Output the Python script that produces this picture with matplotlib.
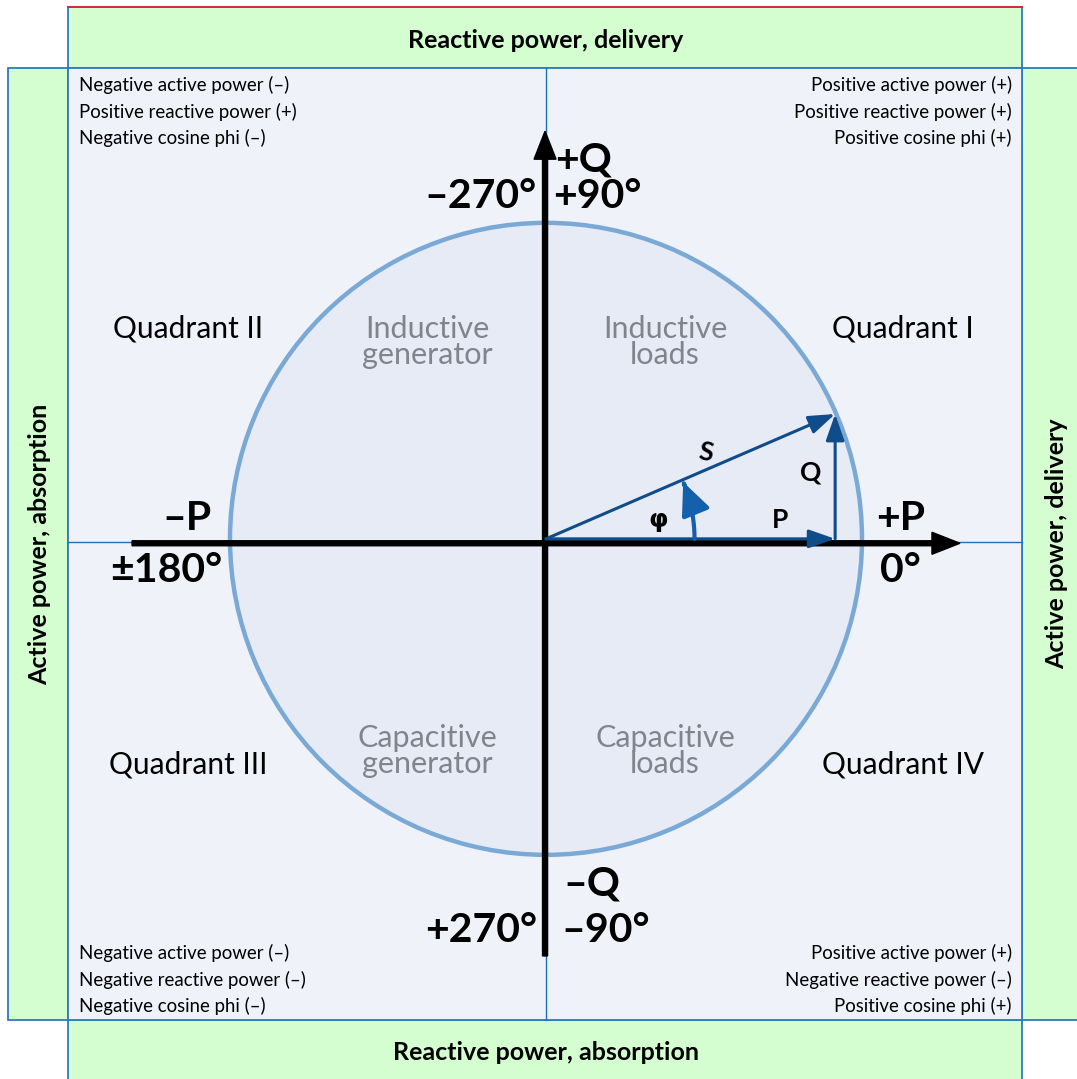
import numpy as np
import matplotlib
matplotlib.use('Agg')
import matplotlib.pyplot as plt
from matplotlib.patches import Rectangle, Circle, FancyArrowPatch
from matplotlib.path import Path

plt.rcParams['font.family'] = ['Lato', 'DejaVu Sans']

# phasor values (unit circle = apparent power S)
S_mag = 1.0
P_val = 0.915
Q_val = 0.405
phi_deg = 24.0
phi_arc_r = 0.47
axis_len = 1.31

# text content
quadrant_names = ['Quadrant I', 'Quadrant II', 'Quadrant III', 'Quadrant IV']
load_names = ['Inductive\nloads', 'Inductive\ngenerator', 'Capacitive\ngenerator', 'Capacitive\nloads']
corner_notes = [
    ['Positive active power (+)', 'Positive reactive power (+)', 'Positive cosine phi (+)'],
    ['Negative active power (\u2013)', 'Positive reactive power (+)', 'Negative cosine phi (\u2013)'],
    ['Negative active power (\u2013)', 'Negative reactive power (\u2013)', 'Negative cosine phi (\u2013)'],
    ['Positive active power (+)', 'Negative reactive power (\u2013)', 'Positive cosine phi (+)'],
]
strip_titles = ['Reactive power, delivery', 'Reactive power, absorption',
                'Active power, absorption', 'Active power, delivery']

# layout (unit circle radius -> 316 px)
scale = 316.0
cx, cy = 546.0, 542.0
def px(x, y):
    return (x - cx) / scale, (cy - y) / scale

fig = plt.figure(figsize=(10.77, 10.79), dpi=100)
ax = fig.add_axes([0, 0, 1, 1])
x0, y0 = px(0, 1079)
x1, y1 = px(1077, 0)
ax.set_xlim(x0, x1)
ax.set_ylim(y0, y1)
ax.axis('off')

green = '#d4fdd0'
panel = '#eff2f9'
edge_blue = '#2b7bbf'

L, T = px(68, 68)
R, B = px(1022, 1020)
_, top_top = px(0, 7)
left_left, _ = px(8, 0)

# green strips
ax.add_patch(Rectangle((L, T), R - L, top_top - T, fc=green, ec=edge_blue, lw=1.3, zorder=1))
ax.plot([L, R], [top_top, top_top], color='#e8202a', lw=1.3, zorder=2)
ax.add_patch(Rectangle((L, y0 - 0.1), R - L, B - y0 + 0.1, fc=green, ec=edge_blue, lw=1.3, zorder=1))
ax.add_patch(Rectangle((left_left, B), L - left_left, T - B, fc=green, ec=edge_blue, lw=1.3, zorder=1))
ax.add_patch(Rectangle((R, B), x1 + 0.1 - R, T - B, fc=green, ec=edge_blue, lw=1.3, zorder=1))
# inner panel
ax.add_patch(Rectangle((L, B), R - L, T - B, fc=panel, ec=edge_blue, lw=1.3, zorder=2))

# thin quadrant dividers
ax.plot([0, 0], [B, T], color='#1f6fbf', lw=1.0, zorder=3)
ax.plot([L, R], [0, 0], color='#1f6fbf', lw=1.0, zorder=3)

# circle
ax.add_patch(Circle((0, 0.01), S_mag, fc='#e6ebf6', ec='#7aa9d6', lw=3.2, zorder=4))

# main axes with arrowheads
hw, hl = 22 / scale, 28 / scale
ax.arrow(-axis_len, -0.004, 2 * axis_len, 0, width=5 / scale, head_width=hw, head_length=hl,
         length_includes_head=True, fc='black', ec='black', zorder=6)
ax.arrow(-0.003, -axis_len, 0, 2 * axis_len - 0.01, width=5 / scale, head_width=hw, head_length=hl,
         length_includes_head=True, fc='black', ec='black', zorder=6)

# phasor triangle
vec_col = '#0f4c8a'
akw = dict(arrowstyle='-|>,head_length=1.0,head_width=0.35', color=vec_col, lw=2.2,
           mutation_scale=16, shrinkA=0, shrinkB=0, zorder=7)
ax.add_patch(FancyArrowPatch((0, 0.01), (P_val, 0.01), **akw))
ax.add_patch(FancyArrowPatch((P_val, 0.01), (P_val, Q_val), **akw))
ax.add_patch(FancyArrowPatch((0, 0.01), (P_val, Q_val), **akw))

# phi arc
ang = np.radians(np.linspace(0, phi_deg - 1.5, 40))
arc = Path(np.column_stack([phi_arc_r * np.cos(ang), phi_arc_r * np.sin(ang) + 0.01]))
ax.add_patch(FancyArrowPatch(path=arc, arrowstyle='-|>,head_length=1.0,head_width=0.45',
                             color='#1560ad', lw=3.0, mutation_scale=20, zorder=7))

# phasor labels
ax.text(*px(706, 452), 'S', fontsize=19, fontweight='bold', rotation=-10, ha='center', va='center', zorder=8)
ax.text(*px(811, 472), 'Q', fontsize=19, fontweight='bold', ha='center', va='center', zorder=8)
ax.text(*px(780, 520), 'P', fontsize=19, fontweight='bold', ha='center', va='center', zorder=8)
ax.text(*px(658, 520), '\u03c6', fontsize=18, fontweight='bold', ha='center', va='center',
        family=['DejaVu Sans'], zorder=8)

# axis labels
big = dict(fontsize=29.5, fontweight='bold', va='center', zorder=8)
ax.text(*px(212, 519), '\u2013P', ha='right', **big)
ax.text(*px(222, 571), '\u00b1180\u00b0', ha='right', **big)
ax.text(*px(876, 519), '+P', ha='left', **big)
ax.text(*px(880, 571), '0\u00b0', ha='left', **big)
ax.text(*px(555, 160), '+Q', ha='left', **big)
ax.text(*px(553, 197), '+90\u00b0', ha='left', **big)
ax.text(*px(537, 197), '\u2013270\u00b0', ha='right', **big)
ax.text(*px(563, 884), '\u2013Q', ha='left', **big)
ax.text(*px(561, 930), '\u201390\u00b0', ha='left', **big)
ax.text(*px(537, 930), '+270\u00b0', ha='right', **big)

# quadrant names and load types
q_pos = [px(903, 328), px(188, 328), px(188, 764), px(903, 764)]
l_pos = [px(665, 342), px(427, 342), px(427, 751), px(665, 751)]
for name, (qx, qy) in zip(quadrant_names, q_pos):
    ax.text(qx, qy, name, fontsize=21.5, ha='center', va='center', zorder=8)
for name, (lx, ly) in zip(load_names, l_pos):
    ax.text(lx, ly, name, fontsize=22, color='#80858d', ha='center', va='center',
            linespacing=0.95, zorder=8)

# corner notes
note_kw = dict(fontsize=13.4, va='center', zorder=8)
for i, line in enumerate(corner_notes[0]):
    ax.text(*px(1012, 85 + 26.5 * i), line, ha='right', **note_kw)
for i, line in enumerate(corner_notes[1]):
    ax.text(*px(79, 85 + 26.5 * i), line, ha='left', **note_kw)
for i, line in enumerate(corner_notes[2]):
    ax.text(*px(79, 953 + 26.5 * i), line, ha='left', **note_kw)
for i, line in enumerate(corner_notes[3]):
    ax.text(*px(1012, 953 + 26.5 * i), line, ha='right', **note_kw)

# strip titles
title_kw = dict(fontsize=18, fontweight='bold', ha='center', va='center', zorder=8)
ax.text(*px(546, 41), strip_titles[0], **title_kw)
ax.text(*px(546, 1053), strip_titles[1], **title_kw)
ax.text(*px(40, 544), strip_titles[2], rotation=90, **title_kw)
ax.text(*px(1057, 544), strip_titles[3], rotation=90, **title_kw)

fig.savefig('out.png', dpi=100, facecolor='white')
